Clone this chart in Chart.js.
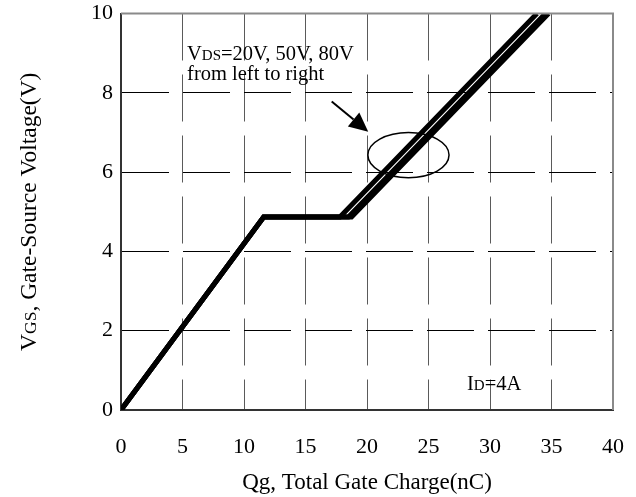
<!DOCTYPE html>
<html>
<head>
<meta charset="utf-8">
<script src="https://cdn.jsdelivr.net/npm/chart.js@4.4.0/dist/chart.umd.min.js"></script>
<style>
  html, body { margin: 0; padding: 0; background: #fff; }
  #wrap { width: 636px; height: 497px; }
</style>
</head>
<body>
<div id="wrap"><canvas id="gateChart" width="636" height="497"></canvas></div>
<script>
  // gate charge curves, Qg (nC) against VGS (V), one per VDS
  const qg20V = [0, 11.6, 17.8, 33.82];
  const qg50V = [0, 11.6, 18.49, 34.51];
  const qg80V = [0, 11.6, 18.74, 34.76];
  const vgsPoints = [0, 4.87, 4.87, 10];
  const xTicks = [0, 5, 10, 15, 20, 25, 30, 35, 40];
  const yTicks = [0, 2, 4, 6, 8, 10];

  const serif = '"Liberation Serif", "DejaVu Serif", serif';

  const toPoints = (qs) => qs.map((q, i) => ({ x: q, y: vgsPoints[i] }));

  const curve = (label, qs) => ({
    label: label,
    data: toPoints(qs),
    borderColor: '#000',
    borderWidth: 5,
    borderJoinStyle: 'miter',
    pointRadius: 0,
    fill: false,
    tension: 0
  });

  // text with smaller letters on the same baseline (VDS, ID, VGS)
  function mixedText(ctx, parts, x, y, measureOnly) {
    let w = 0;
    parts.forEach(([t, size]) => {
      ctx.font = size + 'px ' + serif;
      if (!measureOnly) ctx.fillText(t, x + w, y);
      w += ctx.measureText(t).width;
    });
    return w;
  }

  const decorations = {
    id: 'decorations',
    afterDraw(chart) {
      const ctx = chart.ctx;
      const area = chart.chartArea;
      const xs = chart.scales.x, ys = chart.scales.y;
      const px = v => xs.getPixelForValue(v);
      const py = v => ys.getPixelForValue(v);
      ctx.save();

      // top and right frame
      ctx.strokeStyle = '#8a8a8a';
      ctx.lineWidth = 2;
      ctx.beginPath();
      ctx.moveTo(area.left, area.top);
      ctx.lineTo(area.right, area.top);
      ctx.lineTo(area.right, area.bottom);
      ctx.stroke();

      ctx.fillStyle = '#000';
      ctx.strokeStyle = '#000';
      ctx.textAlign = 'left';
      ctx.textBaseline = 'alphabetic';

      // annotation text
      mixedText(ctx, [['V', 20.5], ['DS', 15], ['=20V, 50V, 80V', 20.5]], px(5.37), py(8.83));
      mixedText(ctx, [['from left to right', 20.5]], px(5.37), py(8.32));
      mixedText(ctx, [['I', 20.5], ['D', 15], ['=4A', 20.5]], px(28.13), py(0.5));

      // ellipse round the curves
      const cx = px(23.37), cy = py(6.43);
      ctx.lineWidth = 1.5;
      ctx.beginPath();
      ctx.ellipse(cx, cy, px(26.67) - cx, cy - py(7.0), 0, 0, Math.PI * 2);
      ctx.stroke();

      // arrow
      const x1 = px(17.13), y1 = py(7.78), x2 = px(20.1), y2 = py(7.02);
      const ang = Math.atan2(y2 - y1, x2 - x1);
      const headLen = 19, headW = 9;
      const bx = x2 - headLen * Math.cos(ang), by = y2 - headLen * Math.sin(ang);
      ctx.lineWidth = 2;
      ctx.beginPath();
      ctx.moveTo(x1, y1);
      ctx.lineTo(bx, by);
      ctx.stroke();
      ctx.beginPath();
      ctx.moveTo(x2, y2);
      ctx.lineTo(bx + headW * Math.sin(ang), by - headW * Math.cos(ang));
      ctx.lineTo(bx - headW * Math.sin(ang), by + headW * Math.cos(ang));
      ctx.closePath();
      ctx.fill();

      // axis titles
      const xParts = [['Qg, Total Gate Charge(nC)', 23]];
      const xw = mixedText(ctx, xParts, 0, 0, true);
      mixedText(ctx, xParts, (area.left + area.right) / 2 - xw / 2, 489);

      const yParts = [['V', 23.5], ['GS', 17.5], [', Gate-Source Voltage(V)', 23.5]];
      const yw = mixedText(ctx, yParts, 0, 0, true);
      ctx.translate(28, (area.top + area.bottom) / 2);
      ctx.rotate(-Math.PI / 2);
      mixedText(ctx, yParts, -yw / 2, 8);

      ctx.restore();
    }
  };

  const ctx = document.getElementById('gateChart').getContext('2d');
  const gateChart = new Chart(ctx, {
    type: 'line',
    data: {
      datasets: [
        curve('VDS=20V', qg20V),
        curve('VDS=50V', qg50V),
        curve('VDS=80V', qg80V)
      ]
    },
    options: {
      responsive: false,
      animation: false,
      devicePixelRatio: 1,
      layout: { padding: { top: 13.5, right: 23, left: 0, bottom: 0 } },
      plugins: {
        legend: { display: false },
        tooltip: { enabled: false }
      },
      scales: {
        x: {
          type: 'linear',
          min: xTicks[0],
          max: xTicks[xTicks.length - 1],
          ticks: {
            stepSize: xTicks[1] - xTicks[0],
            color: '#000',
            font: { family: serif, size: 22 },
            padding: 24,
            maxRotation: 0
          },
          grid: { color: '#5a5a5a', lineWidth: 1, drawTicks: false },
          border: { color: '#333', width: 2, dash: [47, 14] },
          afterFit: (s) => { s.height = 87; s.paddingLeft = 0; s.paddingRight = 0; }
        },
        y: {
          type: 'linear',
          min: yTicks[0],
          max: yTicks[yTicks.length - 1],
          ticks: {
            stepSize: yTicks[1] - yTicks[0],
            color: '#000',
            font: { family: serif, size: 22 },
            padding: 8
          },
          grid: { color: '#000', lineWidth: 1, drawTicks: false },
          border: { color: '#333', width: 2, dash: [47, 14] },
          afterFit: (s) => { s.width = 121; s.paddingTop = 0; s.paddingBottom = 0; }
        }
      }
    },
    plugins: [decorations]
  });
</script>
</body>
</html>
